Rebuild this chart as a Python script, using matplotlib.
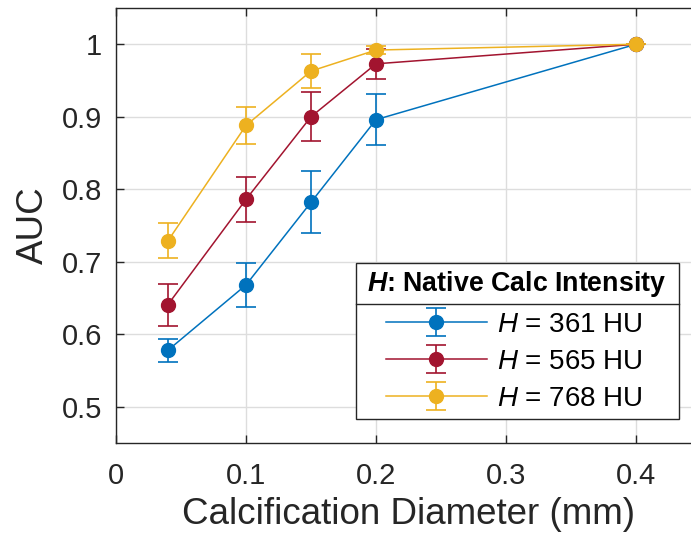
import matplotlib
matplotlib.use("Agg")
import matplotlib.pyplot as plt
from matplotlib.lines import Line2D
from matplotlib.patches import Rectangle

# -----------------------------
# DATA
# -----------------------------
diameters = [0.04, 0.10, 0.15, 0.20, 0.40]

auc_361 = [0.578, 0.668, 0.782, 0.896, 1.000]
err_361 = [0.016, 0.030, 0.043, 0.035, 0.000]

auc_565 = [0.641, 0.786, 0.900, 0.973, 1.000]
err_565 = [0.029, 0.031, 0.034, 0.021, 0.000]

auc_768 = [0.729, 0.888, 0.963, 0.992, 1.000]
err_768 = [0.024, 0.026, 0.023, 0.006, 0.000]

labels = ["$H$ = 361 HU", "$H$ = 565 HU", "$H$ = 768 HU"]
colors = ["#0072BD", "#A2142F", "#EDB120"]

xticks = [0, 0.1, 0.2, 0.3, 0.4]
yticks = [0.5, 0.6, 0.7, 0.8, 0.9, 1.0]

# -----------------------------
# STYLE
# -----------------------------
plt.rcParams["font.family"] = ["Liberation Sans", "DejaVu Sans"]
plt.rcParams["mathtext.fontset"] = "custom"
plt.rcParams["mathtext.rm"] = "Liberation Sans"
plt.rcParams["mathtext.it"] = "Liberation Sans:italic"
plt.rcParams["mathtext.bf"] = "Liberation Sans:bold"
plt.rcParams["mathtext.bfit"] = "Liberation Sans:italic:bold"

fig = plt.figure(figsize=(6.91, 5.40), dpi=100)
ax = fig.add_axes([116 / 691, 97 / 540, 585 / 691, 435 / 540])

series = [(auc_361, err_361), (auc_565, err_565), (auc_768, err_768)]
for (vals, errs), lab, col in zip(series, labels, colors):
    ax.errorbar(diameters, vals, yerr=errs, color=col, ecolor=col,
                linewidth=1.1, elinewidth=1.2, capsize=7.5, capthick=1.2,
                marker="o", markersize=10, markerfacecolor=col,
                markeredgecolor=col, label=lab)

ax.set_xlim(0, 0.45)
ax.set_ylim(0.45, 1.05)
ax.set_xticks(xticks)
ax.set_yticks(yticks)
ax.set_xticklabels(["%g" % t for t in xticks])
ax.set_yticklabels(["%g" % t for t in yticks])

ax.grid(True, color="#dddddd", linewidth=1.0)
ax.set_axisbelow(True)
ax.tick_params(direction="in", length=6, width=1.0, colors="#262626",
               labelsize=21, top=True, right=True)
ax.tick_params(axis="x", pad=14)
ax.tick_params(axis="y", pad=10)
for sp in ax.spines.values():
    sp.set_color("#262626")
    sp.set_linewidth(1.0)

ax.set_xlabel("Calcification Diameter (mm)", fontsize=26.5, color="#262626", labelpad=5)
ax.set_ylabel("AUC", fontsize=26.5, color="#262626", labelpad=8)

# -----------------------------
# LEGEND (box + title row drawn by hand, MATLAB style)
# -----------------------------
box_x0, box_x1 = 0.4103, 0.9624
box_y0, box_y1 = 0.0552, 0.4138
sep_y = 0.3195
ax.add_patch(Rectangle((box_x0, box_y0), box_x1 - box_x0, box_y1 - box_y0,
                       transform=ax.transAxes, facecolor="white",
                       edgecolor="#262626", linewidth=1.0, zorder=4))
ax.add_line(Line2D([box_x0, box_x1], [sep_y, sep_y], transform=ax.transAxes,
                   color="#262626", linewidth=1.0, zorder=5))
ax.text((box_x0 + box_x1) / 2 - 0.002, (sep_y + box_y1) / 2,
        r"$\mathbfit{H}$: Native Calc Intensity", transform=ax.transAxes,
        ha="center", va="center", fontsize=19.3, fontweight="bold",
        color="black", zorder=6)

leg = ax.legend(loc="center left", bbox_to_anchor=(0.4615, 0.1865),
                bbox_transform=ax.transAxes, frameon=False,
                fontsize=20, handlelength=3.63, handletextpad=0.36,
                labelspacing=0.40, borderpad=0, borderaxespad=0)
leg.set_zorder(7)
for t in leg.get_texts():
    t.set_color("black")

fig.savefig("out.png", dpi=100)
